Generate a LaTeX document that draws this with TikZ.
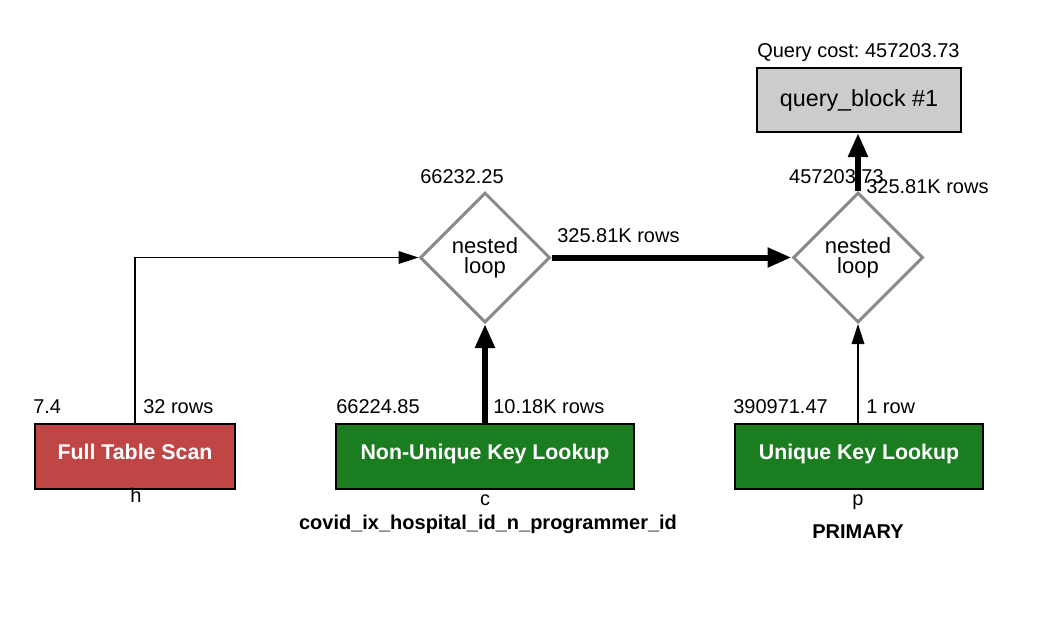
\documentclass[tikz,border=0pt]{standalone}
\usepackage{fontspec}
\setmainfont{Liberation Sans}
\frenchspacing
\usetikzlibrary{shapes.geometric,arrows.meta}
\definecolor{redbox}{RGB}{192,70,70}
\definecolor{greenbox}{RGB}{26,125,32}
\definecolor{qbfill}{RGB}{204,204,204}
\definecolor{dgray}{RGB}{136,136,136}
\begin{document}
\begin{tikzpicture}[x=0.75pt,y=-0.75pt,
  lbl/.style={inner sep=0pt,font=\fontsize{15}{18}\selectfont},
  blbl/.style={inner sep=0pt,font=\fontsize{15}{18}\selectfont\bfseries},
  opbox/.style={draw=black,line width=1.5pt,minimum height=48.75pt,inner sep=0pt,text height=12pt,text depth=8.25pt,text=white,font=\fontsize{16}{19}\selectfont\bfseries},
  loopdia/.style={diamond,draw=dgray,line width=2.25pt,minimum width=97.5pt,minimum height=97.5pt,inner sep=0pt,align=center,font=\fontsize{16.5}{15}\selectfont},
  thin/.style={line width=1.1pt,-{Triangle[length=15pt,width=9.5pt]}},
  thick/.style={line width=4.5pt,-{Triangle[length=18pt,width=14pt]}},
]
\useasboundingbox (0,0) rectangle (1046,626);
% nodes
\node[draw=black,line width=1.5pt,fill=qbfill,minimum width=153pt,minimum height=48pt,inner sep=0pt,font=\fontsize{17.5}{20}\selectfont] (qb) at (859,100) {query\_block \#1};
\node[loopdia] (nl1) at (485,257.5) {nested\\loop};
\node[loopdia] (nl2) at (858,257.5) {nested\\loop};
\node[opbox,fill=redbox,minimum width=150pt] (fts) at (135,456.5) {Full Table Scan};
\node[opbox,fill=greenbox,minimum width=223.5pt] (nuk) at (485,456.5) {Non-Unique Key Lookup};
\node[opbox,fill=greenbox,minimum width=186pt] (uk) at (859,456.5) {Unique Key Lookup};
% labels
\node[lbl,anchor=base west] (qc) at (757,57) {Query cost: 457203.73};
\node[lbl,anchor=base east] (c2) at (884,183) {457203.73};
\node[lbl,anchor=base west] (r2) at (866,193) {325.81K rows};
\node[lbl,anchor=base west] (c1) at (420,183) {66232.25};
\node[lbl,anchor=base west] (r12) at (557,242) {325.81K rows};
\node[lbl,anchor=base west] (cf) at (33,413) {7.4};
\node[lbl,anchor=base west] (rf) at (143,413) {32 rows};
\node[lbl,anchor=base west] (cn) at (336,413) {66224.85};
\node[lbl,anchor=base west] (rn) at (493,413) {10.18K rows};
\node[lbl,anchor=base west] (cu) at (733,413) {390971.47};
\node[lbl,anchor=base west] (ru) at (866,413) {1 row};
\node[lbl,anchor=base] (th) at (136,502) {h};
\node[lbl,anchor=base] (tc) at (485,505) {c};
\node[blbl,anchor=base] (ic) at (488,529) {covid\_ix\_hospital\_id\_n\_programmer\_id};
\node[lbl,anchor=base] (tp) at (858,505) {p};
\node[blbl,anchor=base] (ip) at (858,538) {PRIMARY};
% connectors
\draw[thin] (fts.north) |- (nl1.west);
\draw[thick] (nuk.north) -- (nl1.south);
\draw[thick] (nl1.east) -- (nl2.west);
\draw[thin] (uk.north -| nl2.south) -- (nl2.south);
\draw[thick] (nl2.north) -- (qb.south -| nl2.north);
\end{tikzpicture}
\end{document}
